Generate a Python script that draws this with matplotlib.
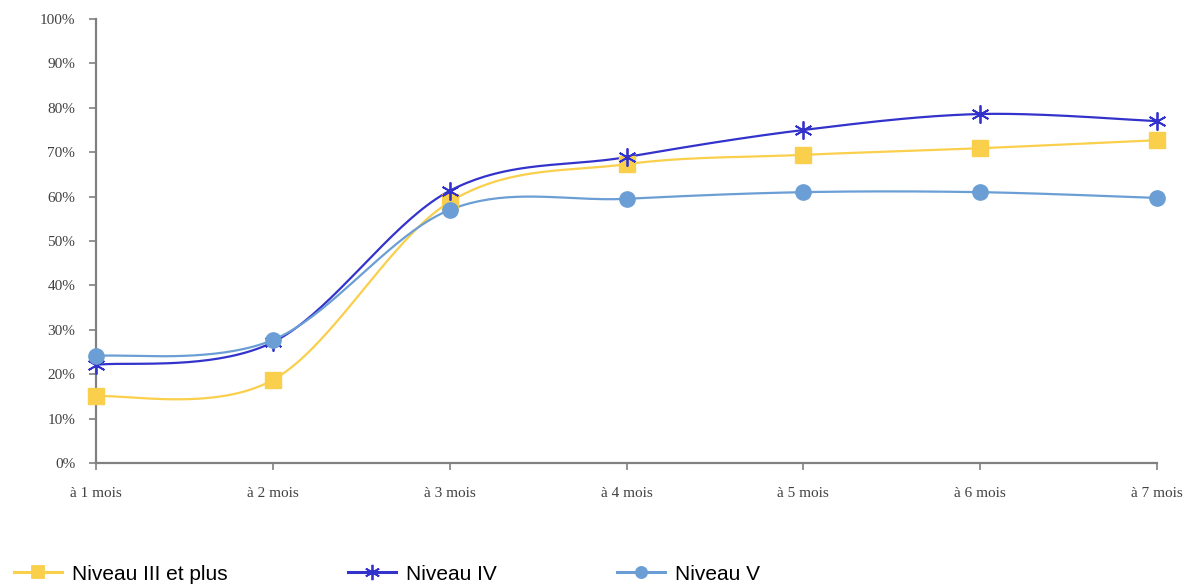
import numpy as np
import matplotlib
matplotlib.use("Agg")
import matplotlib.pyplot as plt
from matplotlib.lines import Line2D

categories = ["à 1 mois", "à 2 mois", "à 3 mois", "à 4 mois", "à 5 mois", "à 6 mois", "à 7 mois"]
niveau_iii = [15.0, 18.7, 58.8, 67.3, 69.4, 70.9, 72.7]
niveau_iv = [22.1, 27.2, 61.3, 68.9, 75.0, 78.6, 77.0]
niveau_v = [24.1, 27.7, 57.0, 59.5, 61.0, 61.0, 59.7]
series_names = ["Niveau III et plus", "Niveau IV", "Niveau V"]
yticks = [0, 10, 20, 30, 40, 50, 60, 70, 80, 90, 100]

colors = ["#F9CF4C", "#3333CC", "#6A9ED5"]
markers = ["s", (6, 2, 0), "o"]
msizes = [11, 13, 11]


def smooth(xs, ys, n=40):
    xs = np.asarray(xs, float)
    ys = np.asarray(ys, float)
    P = np.column_stack([xs, ys])
    out = []
    m = len(P)
    for i in range(m - 1):
        p0 = P[i - 1] if i > 0 else P[i]
        p1 = P[i]
        p2 = P[i + 1]
        p3 = P[i + 2] if i + 2 < m else P[i + 1]
        c1 = p1 + (p2 - p0) / 6.0
        c2 = p2 - (p3 - p1) / 6.0
        t = np.linspace(0, 1, n, endpoint=(i == m - 2))[:, None]
        seg = ((1 - t) ** 3) * p1 + 3 * ((1 - t) ** 2) * t * c1 + 3 * (1 - t) * t ** 2 * c2 + t ** 3 * p2
        out.append(seg)
    out = np.vstack(out)
    return out[:, 0], out[:, 1]


fig = plt.figure(figsize=(11.89, 5.87), dpi=100)
ax = fig.add_axes([96 / 1189, 1 - 463 / 587, (1157 - 96) / 1189, (463 - 19) / 587])

x = np.arange(len(categories))
handles = []
for vals, c, mk, ms, name in zip([niveau_iii, niveau_iv, niveau_v], colors, markers, msizes, series_names):
    sx, sy = smooth(x, vals)
    ax.plot(sx, sy, color=c, lw=1.6, clip_on=False, zorder=2)
    if mk == (6, 2, 0):
        ax.plot(x, vals, ls="none", marker=mk, ms=ms, mec=c, mew=1.3, color=c, clip_on=False, zorder=3)
    else:
        ax.plot(x, vals, ls="none", marker=mk, ms=ms, mfc=c, mec=c, color=c, clip_on=False, zorder=3)
    handles.append(Line2D([], [], color=c, lw=2.2, marker=mk, ms=11 if mk == (6, 2, 0) else (9 if mk == "s" else 8),
                          mfc=c, mec=c, mew=1.3, label=name))

ax.set_xlim(0, len(categories) - 1)
ax.set_ylim(0, 100)
ax.set_xticks(x)
ax.set_xticklabels(categories)
ax.set_yticks(yticks)
ax.set_yticklabels([f"{v}%" for v in yticks])

for s in ["top", "right"]:
    ax.spines[s].set_visible(False)
for s in ["left", "bottom"]:
    ax.spines[s].set_color("#808080")
    ax.spines[s].set_linewidth(1.6)
ax.tick_params(axis="both", direction="out", length=5, width=1.2, color="#808080",
               labelcolor="#404040", labelsize=11)
ax.tick_params(axis="x", pad=12)
ax.tick_params(axis="y", pad=10)
for lab in ax.get_xticklabels() + ax.get_yticklabels():
    lab.set_fontfamily("Liberation Serif")

fig.legend(handles=handles, loc="center left", bbox_to_anchor=(14 / 1189, 1 - 574 / 587),
           ncol=3, frameon=False, borderpad=0, borderaxespad=0,
           handlelength=2.3, handletextpad=0.5, columnspacing=5.75,
           prop={"family": "Liberation Sans", "size": 15})

fig.savefig("out.png", dpi=100)
